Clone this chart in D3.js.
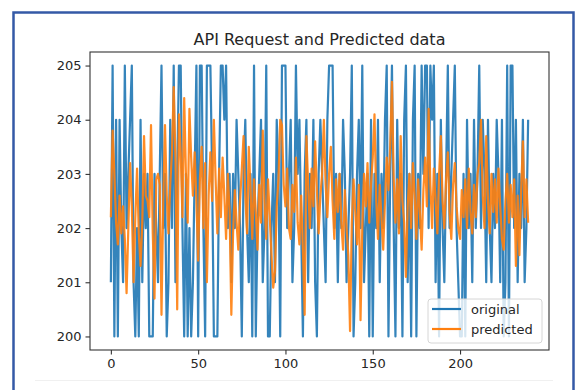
<!DOCTYPE html>
<html>
<head>
<meta charset="utf-8">
<script src="https://cdn.jsdelivr.net/npm/d3@7"></script>
<style>
  body { margin: 0; background: #fff; }
  text { font-family: "DejaVu Sans", sans-serif; fill: #262626; }
</style>
</head>
<body>
<div id="chart"></div>
<script>
const width = 576;
const height = 390;

// values
const original = [
  201,205,200,204,200,204,202,201,205,202,
  203,204,205,201,200,202,200,204,201,203,
  202,203,200,200,200,203,202,201,203,205,
  202,203,200,201,204,202,205,201,203,205,
  205,202,200,203,200,202,200,201,203,205,
  200,205,205,202,200,205,205,205,203,200,
  200,200,203,205,205,204,205,202,203,201,
  203,202,204,203,202,200,203,204,202,201,
  203,200,205,200,202,203,204,201,202,205,
  200,200,202,203,201,204,203,200,205,205,
  205,202,203,204,201,202,205,203,204,202,
  200,203,204,201,203,202,204,201,200,203,
  204,203,202,201,204,205,205,205,202,203,
  201,203,202,204,203,201,202,203,205,200,
  201,203,204,202,205,201,202,203,200,204,
  200,203,202,204,201,203,202,204,205,200,
  203,205,202,200,204,202,203,200,204,205,
  201,203,200,204,205,200,203,202,205,203,
  205,205,202,205,204,205,201,203,200,204,
  202,201,203,205,202,203,204,205,202,201,
  200,200,203,200,204,202,203,201,204,202,
  203,205,202,204,203,201,204,202,201,203,
  202,204,203,201,204,200,201,205,200,205,
  205,202,204,201,203,202,204,201,202,204
];

const predicted = [
  202.2,203.8,203.0,202.1,201.7,202.6,201.9,202.4,201.8,200.8,
  202.0,203.2,202.4,201.0,202.2,203.1,201.9,201.3,202.1,203.7,
  202.6,202.5,202.2,203.9,201.9,200.7,202.9,203.0,202.8,200.4,
  202.5,203.9,202.6,201.9,202.8,203.4,204.6,203.3,200.5,204.1,
  203.4,202.2,204.4,203.0,202.1,204.2,203.3,202.6,203.4,202.5,
  201.4,202.9,203.5,202.0,203.2,201.0,202.6,203.4,202.5,204.0,
  202.9,201.9,203.1,202.2,203.3,202.6,201.8,203.0,202.3,200.4,
  201.9,202.7,202.1,201.6,202.5,203.1,203.7,202.6,201.9,203.5,
  202.7,201.8,202.9,202.3,201.6,202.8,202.1,203.8,202.5,201.8,
  202.9,202.2,201.5,200.9,201.2,202.4,202.9,204.0,203.9,202.8,
  202.4,203.1,202.0,201.8,202.8,202.3,203.3,202.1,201.7,202.6,
  201.6,200.4,203.7,202.8,202.0,203.1,202.4,203.6,202.7,201.9,
  202.6,203.0,204.0,202.8,202.2,203.0,203.5,202.5,201.8,202.9,
  202.3,203.0,202.1,201.6,202.7,202.0,201.5,200.1,202.1,202.9,
  202.3,201.7,202.8,200.3,202.0,203.0,202.4,203.2,202.1,202.8,
  203.3,204.1,202.5,201.8,202.8,202.2,201.6,202.5,203.3,202.7,
  203.5,204.7,202.9,202.1,202.9,201.9,203.7,202.5,202.1,201.1,
  202.4,203.0,202.0,203.2,202.6,201.8,202.9,202.3,201.6,202.7,
  203.3,202.4,204.2,202.8,202.0,203.1,202.5,201.9,203.0,203.7,
  202.5,202.0,202.9,203.4,202.3,201.8,202.8,203.2,202.4,202.0,
  201.8,202.7,202.2,202.9,202.0,203.1,202.3,201.9,202.8,202.2,
  203.0,203.2,204.0,202.6,202.0,203.7,202.5,201.9,203.0,202.3,
  202.9,202.1,203.1,202.4,201.8,201.6,202.5,203.0,202.1,202.8,
  202.2,202.9,201.3,202.6,201.5,202.7,203.6,202.2,202.9,202.1
];

const yTicks = [200, 201, 202, 203, 204, 205];
const xTicks = [0, 50, 100, 150, 200];
const legendItems = [
  { label: "original", color: "#1f77b4" },
  { label: "predicted", color: "#ff7f0e" }
];

const plot = { left: 90, top: 52, right: 549, bottom: 350 };

let svg = d3.select("#chart").append("svg")
  .attr("width", width)
  .attr("height", height);

svg.append("rect")
  .attr("width", width)
  .attr("height", height)
  .attr("fill", "#fff");

// screenshot frame
svg.append("rect")
  .attr("x", 13.5)
  .attr("y", 12.5)
  .attr("width", 560)
  .attr("height", 400)
  .attr("fill", "none")
  .attr("stroke", "#3459a6")
  .attr("stroke-width", 2.5);

svg.append("line")
  .attr("x1", 35).attr("x2", 553)
  .attr("y1", 380.5).attr("y2", 380.5)
  .attr("stroke", "#f0f0f0");

// scales with matplotlib-like 5% margins
let n = original.length;
let x = d3.scaleLinear()
  .domain([-0.05 * (n - 1), 1.05 * (n - 1)])
  .range([plot.left, plot.right]);
let y = d3.scaleLinear()
  .domain([199.75, 205.25])
  .range([plot.bottom, plot.top]);

let g = svg.append("g");

svg.append("clipPath").attr("id", "clip")
  .append("rect")
  .attr("x", plot.left).attr("y", plot.top)
  .attr("width", plot.right - plot.left)
  .attr("height", plot.bottom - plot.top);

let line = d3.line()
  .x((d, i) => x(i))
  .y(d => y(d));

g.append("path")
  .datum(original)
  .attr("d", line)
  .attr("fill", "none")
  .attr("stroke", legendItems[0].color)
  .attr("stroke-opacity", 0.9)
  .attr("stroke-width", 2.2)
  .attr("stroke-linejoin", "round")
  .attr("clip-path", "url(#clip)");

g.append("path")
  .datum(predicted)
  .attr("d", line)
  .attr("fill", "none")
  .attr("stroke", legendItems[1].color)
  .attr("stroke-opacity", 0.9)
  .attr("stroke-width", 2.2)
  .attr("stroke-linejoin", "round")
  .attr("clip-path", "url(#clip)");

// axes
let xAxis = d3.axisBottom(x).tickValues(xTicks).tickFormat(d3.format("d")).tickSize(4.5).tickPadding(4);
let yAxis = d3.axisLeft(y).tickValues(yTicks).tickFormat(d3.format("d")).tickSize(4.5).tickPadding(4);

let xg = svg.append("g")
  .attr("transform", "translate(0," + plot.bottom + ")")
  .call(xAxis);
let yg = svg.append("g")
  .attr("transform", "translate(" + plot.left + ",0)")
  .call(yAxis);

[xg, yg].forEach(a => {
  a.select(".domain").remove();
  a.selectAll("line").attr("stroke", "#333").attr("stroke-width", 1.1);
  a.selectAll("text")
    .attr("fill", "#262626")
    .style("font-size", "13px")
    .style("font-family", "'DejaVu Sans', sans-serif");
});

// spines
svg.append("rect")
  .attr("x", plot.left).attr("y", plot.top)
  .attr("width", plot.right - plot.left)
  .attr("height", plot.bottom - plot.top)
  .attr("fill", "none")
  .attr("stroke", "#333")
  .attr("stroke-width", 1.1);

// title
svg.append("text")
  .attr("x", (plot.left + plot.right) / 2)
  .attr("y", 45)
  .attr("text-anchor", "middle")
  .style("font-size", "16px")
  .text("API Request and Predicted data");

// legend
let legend = svg.append("g").attr("transform", "translate(428,299)");
legend.append("rect")
  .attr("width", 114).attr("height", 44)
  .attr("rx", 3)
  .attr("fill", "#fff").attr("fill-opacity", 0.8)
  .attr("stroke", "#d6d6d6");

legend.selectAll("g.item")
  .data(legendItems)
  .enter().append("g")
  .attr("class", "item")
  .attr("transform", (d, i) => "translate(0," + (10 + i * 20) + ")")
  .each(function(d) {
    let item = d3.select(this);
    item.append("line")
      .attr("x1", 4).attr("x2", 33)
      .attr("stroke", d.color)
      .attr("stroke-width", 2.2);
    item.append("text")
      .attr("x", 43).attr("y", 4.5)
      .style("font-size", "13px")
      .text(d.label);
  });
</script>
</body>
</html>
